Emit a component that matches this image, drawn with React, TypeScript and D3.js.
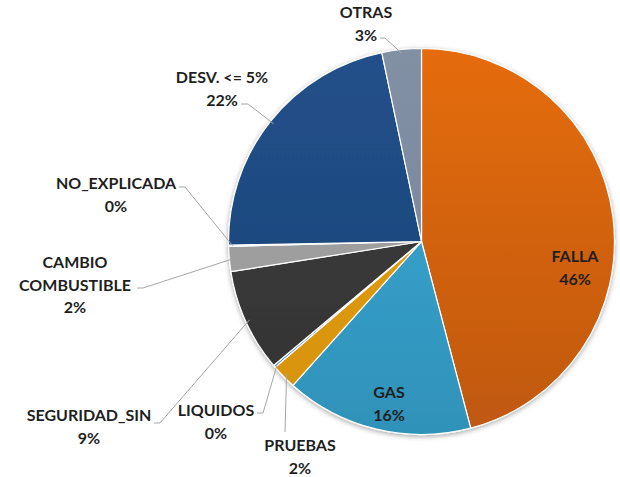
import React, { useEffect, useRef } from 'react';
import * as d3 from 'd3';

// slices clockwise from 12 o'clock
const categories = ['FALLA', 'GAS', 'PRUEBAS', 'LIQUIDOS', 'SEGURIDAD_SIN', 'CAMBIO COMBUSTIBLE', 'NO_EXPLICADA', 'DESV. <= 5%', 'OTRAS'];
const shares = [45.9, 15.7, 2.1, 0.2, 8.6, 2.1, 0.1, 22.0, 3.3];
const topColors = ['#E56C0C', '#3DAAD6', '#E8A214', '#5B9BD5', '#3E3E3E', '#A6A6A6', '#7F7F7F', '#21508A', '#8290A4'];
const bottomColors = ['#BF5812', '#2F92B9', '#D5920E', '#4A86BD', '#333333', '#979797', '#6F6F6F', '#1C4476', '#76839A'];

// label layout: text lines, text anchor x/y (first line baseline), leader polyline start
const labelSpots: { [k: string]: { x: number; y: number; lines: string[]; leader?: [number, number][] } } = {
  'FALLA': { x: 575, y: 262, lines: ['FALLA'] },
  'GAS': { x: 389, y: 398, lines: ['GAS'] },
  'PRUEBAS': { x: 300, y: 451, lines: ['PRUEBAS'], leader: [[285, 432]] },
  'LIQUIDOS': { x: 216, y: 416, lines: ['LIQUIDOS'], leader: [[257, 413], [263, 413]] },
  'SEGURIDAD_SIN': { x: 89, y: 421, lines: ['SEGURIDAD_SIN'], leader: [[154, 423], [160, 423]] },
  'CAMBIO COMBUSTIBLE': { x: 75, y: 268, lines: ['CAMBIO', 'COMBUSTIBLE'], leader: [[137, 288], [143, 288]] },
  'NO_EXPLICADA': { x: 116, y: 189, lines: ['NO_EXPLICADA'], leader: [[179, 187], [185, 187]] },
  'DESV. <= 5%': { x: 222, y: 83, lines: ['DESV. <= 5%'], leader: [[241, 104], [248, 104]] },
  'OTRAS': { x: 366, y: 18, lines: ['OTRAS'], leader: [[380, 38], [385, 38]] },
};

const App = () => {
  const svgRef = useRef<SVGSVGElement>(null);

  useEffect(() => {
    const width = 620;
    const height = 477;
    const cx = 421.5;
    const cy = 241.5;
    const radius = 193;

    const svg = d3.select(svgRef.current).attr('width', width).attr('height', height);
    svg.selectAll('*').remove();

    const defs = svg.append('defs');
    const shadow = defs.append('filter').attr('id', 'shadow').attr('x', '-10%').attr('y', '-10%').attr('width', '120%').attr('height', '120%');
    shadow.append('feDropShadow').attr('dx', 0).attr('dy', 1.5).attr('stdDeviation', 2.5).attr('flood-color', '#000').attr('flood-opacity', 0.35);

    categories.forEach((c, i) => {
      const g = defs.append('linearGradient')
        .attr('id', `grad${i}`)
        .attr('gradientUnits', 'userSpaceOnUse')
        .attr('x1', 0).attr('y1', -radius).attr('x2', 0).attr('y2', radius);
      g.append('stop').attr('offset', '0%').attr('stop-color', topColors[i]);
      g.append('stop').attr('offset', '100%').attr('stop-color', bottomColors[i]);
    });

    const pie = d3.pie<number>().sort(null).value((d) => d);
    const arcs = pie(shares);
    const arc = d3.arc<d3.PieArcDatum<number>>().innerRadius(0).outerRadius(radius);

    const g = svg.append('g').attr('transform', `translate(${cx},${cy})`);

    g.append('g')
      .attr('filter', 'url(#shadow)')
      .selectAll('path')
      .data(arcs)
      .enter()
      .append('path')
      .attr('d', arc)
      .attr('fill', (d, i) => `url(#grad${i})`)
      .attr('stroke', '#fff')
      .attr('stroke-width', 1.2)
      .attr('stroke-linejoin', 'round');

    const fmt = (v: number) => `${Math.round(v)}%`;
    const lineH = 22.5;

    arcs.forEach((a, i) => {
      const spot = labelSpots[categories[i]];
      if (spot.leader) {
        const mid = (a.startAngle + a.endAngle) / 2;
        const edge: [number, number] = [cx + Math.sin(mid) * (radius - 4), cy - Math.cos(mid) * (radius - 4)];
        const pts: [number, number][] = [...spot.leader, edge];
        svg.append('path')
          .attr('d', d3.line()(pts))
          .attr('fill', 'none')
          .attr('stroke', '#a6a6a6')
          .attr('stroke-width', 1);
      }
      const text = svg.append('text')
        .attr('text-anchor', 'middle')
        .attr('font-family', 'Lato, "Open Sans", sans-serif')
        .attr('font-weight', 700)
        .attr('font-size', 16)
        .attr('fill', '#1f1f1f');
      const lines = [...spot.lines, fmt(shares[i])];
      lines.forEach((l, j) => {
        text.append('tspan').attr('x', spot.x).attr('y', spot.y + j * lineH).text(l);
      });
    });
  }, []);

  return (
    <div>
      <svg ref={svgRef} style={{ position: 'absolute', left: 0, top: 0 }}></svg>
    </div>
  );
};

export default App;
